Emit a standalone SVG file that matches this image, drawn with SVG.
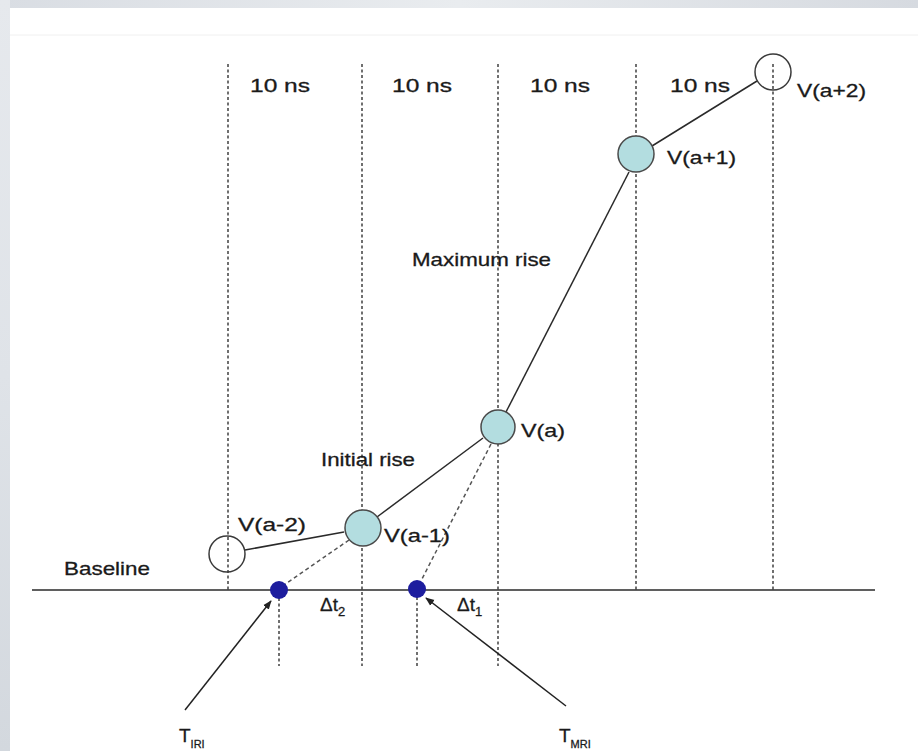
<svg xmlns="http://www.w3.org/2000/svg" width="918" height="751" viewBox="0 0 918 751">
<defs>
<linearGradient id="bgTop" x1="0" y1="0" x2="1" y2="0">
<stop offset="0" stop-color="#d9dde3"/>
<stop offset="0.5" stop-color="#e9ecef"/>
<stop offset="1" stop-color="#d6dae0"/>
</linearGradient>
<linearGradient id="bgLeft" x1="0" y1="0" x2="0" y2="1">
<stop offset="0" stop-color="#e6e9ed"/>
<stop offset="0.5" stop-color="#dfe3e8"/>
<stop offset="1" stop-color="#d3d8de"/>
</linearGradient>
<marker id="arr" viewBox="0 0 10 10" refX="9" refY="5" markerWidth="9" markerHeight="9" orient="auto" markerUnits="userSpaceOnUse">
<path d="M0,1 L10,5 L0,9 z" fill="#222"/>
</marker>
<style>
text{font-family:"Liberation Sans",Arial,sans-serif;font-size:19px;fill:#1a1a1a;stroke:#1a1a1a;stroke-width:0.3}
.grid{stroke:#333;stroke-width:1.4;stroke-dasharray:3,2.5;fill:none}
.solid{stroke:#2a2a2a;stroke-width:1.5;fill:none}
.dash{stroke:#555;stroke-width:1.5;stroke-dasharray:4,3;fill:none}
.filled{fill:#b3dde0;stroke:#4a4a4a;stroke-width:1.5}
.open{fill:none;stroke:#3a3a3a;stroke-width:1.5}
.dot{fill:#1d1d9e}
.arrow{stroke:#222;stroke-width:1.5;fill:none;marker-end:url(#arr)}
</style>
</defs>
<rect x="0" y="0" width="918" height="751" fill="#fff"/>
<rect x="0" y="0" width="918" height="8" fill="url(#bgTop)"/>
<rect x="0" y="0" width="10" height="751" fill="url(#bgLeft)"/>
<line x1="10" y1="35" x2="918" y2="35" stroke="#f0f0f0" stroke-width="1"/>

<g id="grid">
<line class="grid" x1="228" y1="64" x2="228" y2="590"/>
<line class="grid" x1="362" y1="64" x2="362" y2="666"/>
<line class="grid" x1="498" y1="64" x2="498" y2="666"/>
<line class="grid" x1="636" y1="64" x2="636" y2="590"/>
<line class="grid" x1="773" y1="64" x2="773" y2="590"/>
<line class="grid" x1="279" y1="598" x2="279" y2="666"/>
<line class="grid" x1="417" y1="597" x2="417" y2="666"/>
</g>

<g id="baseline">
<line class="solid" x1="32" y1="590" x2="875" y2="590" stroke-width="1.7"/>
</g>

<g id="connectors">
<line class="solid" x1="245" y1="550" x2="344" y2="532"/>
<line class="solid" x1="377" y1="517" x2="483" y2="438"/>
<line class="solid" x1="506" y1="412" x2="629" y2="172"/>
<line class="solid" x1="652" y1="146" x2="757" y2="81"/>
<line class="dash" x1="349" y1="540" x2="284" y2="585"/>
<line class="dash" x1="491" y1="444" x2="421" y2="581"/>
<line class="arrow" x1="185" y1="710" x2="271" y2="601"/>
<line class="arrow" x1="566" y1="706" x2="426" y2="598"/>
</g>

<g id="node-va-2"><circle class="open" cx="227" cy="554" r="18"/></g>
<g id="node-va-1"><circle class="filled" cx="363" cy="528" r="18"/></g>
<g id="node-va"><circle class="filled" cx="498" cy="427" r="17"/></g>
<g id="node-va1"><circle class="filled" cx="636" cy="154" r="18"/></g>
<g id="node-va2"><circle class="open" cx="773" cy="72" r="18"/></g>
<g id="dot-iri"><circle class="dot" cx="279" cy="590" r="9"/></g>
<g id="dot-mri"><circle class="dot" cx="417" cy="589" r="9"/></g>

<g id="labels">
<text x="250" y="92" textLength="60" lengthAdjust="spacingAndGlyphs">10 ns</text>
<text x="392" y="92" textLength="60" lengthAdjust="spacingAndGlyphs">10 ns</text>
<text x="530" y="92" textLength="60" lengthAdjust="spacingAndGlyphs">10 ns</text>
<text x="670" y="92" textLength="60" lengthAdjust="spacingAndGlyphs">10 ns</text>
<text x="797" y="97" textLength="69" lengthAdjust="spacingAndGlyphs">V(a+2)</text>
<text x="667" y="164" textLength="69" lengthAdjust="spacingAndGlyphs">V(a+1)</text>
<text x="412" y="266" textLength="139" lengthAdjust="spacingAndGlyphs">Maximum rise</text>
<text x="521" y="437" textLength="44" lengthAdjust="spacingAndGlyphs">V(a)</text>
<text x="321" y="466" textLength="94" lengthAdjust="spacingAndGlyphs">Initial rise</text>
<text x="238" y="531" textLength="68" lengthAdjust="spacingAndGlyphs">V(a-2)</text>
<text x="384" y="542" textLength="66" lengthAdjust="spacingAndGlyphs">V(a-1)</text>
<text x="64" y="575" textLength="86" lengthAdjust="spacingAndGlyphs">Baseline</text>
<text x="320" y="611">Δt<tspan font-size="13" dy="5">2</tspan></text>
<text x="457" y="611">Δt<tspan font-size="13" dy="5">1</tspan></text>
<text x="179" y="742" font-size="23">T<tspan font-size="11" dy="6">IRI</tspan></text>
<text x="559" y="742" font-size="23">T<tspan font-size="11" dy="6">MRI</tspan></text>
</g>
</svg>
